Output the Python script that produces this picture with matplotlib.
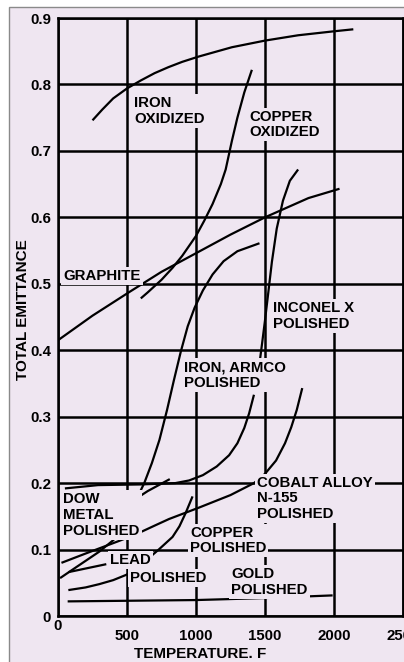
import matplotlib
matplotlib.use("Agg")
import matplotlib.pyplot as plt
from matplotlib.patches import Rectangle
from matplotlib.transforms import offset_copy

# curves (temperature F, total emittance)
iron_ox_t = [250, 320, 400, 500, 600, 700, 800, 900, 1020, 1260, 1500, 1740, 2000, 2140]
iron_ox_e = [0.746, 0.762, 0.779, 0.794, 0.806, 0.817, 0.826, 0.834, 0.842, 0.856, 0.866, 0.874, 0.880, 0.883]

copper_ox_t = [600, 650, 750, 830, 900, 1000, 1060, 1120, 1180, 1215, 1260, 1300, 1350, 1405]
copper_ox_e = [0.478, 0.487, 0.506, 0.524, 0.542, 0.572, 0.595, 0.620, 0.650, 0.672, 0.715, 0.750, 0.788, 0.822]

graphite_t = [0, 250, 520, 750, 1000, 1250, 1500, 1815, 2040]
graphite_e = [0.415, 0.452, 0.488, 0.518, 0.546, 0.574, 0.600, 0.629, 0.643]

inconel_t = [1465, 1480, 1500, 1520, 1550, 1585, 1630, 1680, 1740]
inconel_e = [0.388, 0.412, 0.445, 0.480, 0.533, 0.583, 0.625, 0.655, 0.672]

s_curve_t = [15, 100, 200, 300, 400, 460, 505, 560, 625, 680, 735, 790, 840, 890,
             940, 990, 1050, 1120, 1200, 1300, 1460]
s_curve_e = [0.057, 0.069, 0.083, 0.097, 0.114, 0.129, 0.147, 0.172, 0.200, 0.230, 0.265, 0.310,
             0.355, 0.398, 0.436, 0.464, 0.490, 0.514, 0.534, 0.549, 0.561]

armco_t = [50, 290, 600, 850, 950, 1050, 1150, 1240, 1300, 1350, 1385, 1420]
armco_e = [0.192, 0.197, 0.198, 0.200, 0.204, 0.212, 0.225, 0.242, 0.260, 0.283, 0.305, 0.333]

cobalt_t = [25, 200, 430, 555, 700, 805, 1020, 1250, 1420, 1500, 1580, 1645, 1690, 1730, 1770]
cobalt_e = [0.080, 0.094, 0.112, 0.122, 0.136, 0.146, 0.163, 0.182, 0.200, 0.214, 0.234, 0.260,
            0.284, 0.310, 0.343]

copper_pol_t = [75, 200, 300, 400, 495, 570, 640, 730, 830, 880, 925, 975]
copper_pol_e = [0.039, 0.043, 0.048, 0.054, 0.062, 0.072, 0.084, 0.100, 0.119, 0.135, 0.155, 0.180]

dow_t = [350, 495, 650, 810]
dow_e = [0.145, 0.167, 0.188, 0.206]

lead_t = [75, 350]
lead_e = [0.066, 0.078]

gold_t = [70, 1000, 1500, 1990]
gold_e = [0.022, 0.024, 0.027, 0.031]

x_ticks = [0, 500, 1000, 1500, 2000, 2500]
y_ticks = [0, 0.1, 0.2, 0.3, 0.4, 0.5, 0.6, 0.7, 0.8, 0.9]
y_labels = ["0", "0.1", "0.2", "0.3", "0.4", "0.5", "0.6", "0.7", "0.8", "0.9"]

# (text, x, y top) for the curve labels
labels = [
    ("IRON\nOXIDIZED", 550, 0.782),
    ("COPPER\nOXIDIZED", 1385, 0.762),
    ("GRAPHITE", 38, 0.522),
    ("INCONEL X\nPOLISHED", 1556, 0.474),
    ("IRON, ARMCO\nPOLISHED", 915, 0.385),
    ("COBALT ALLOY\nN-155\nPOLISHED", 1443, 0.211),
    ("DOW\nMETAL\nPOLISHED", 38, 0.186),
    ("COPPER\nPOLISHED", 956, 0.136),
    ("LEAD", 375, 0.095),
    ("POLISHED", 519, 0.068),
    ("GOLD\nPOLISHED", 1256, 0.073),
]

bg = "#efe6f1"
font = "Liberation Sans"

fig = plt.figure(figsize=(4.04, 6.62), dpi=100)
fig.patch.set_facecolor("white")
fig.patches.append(Rectangle((9 / 404, -0.01), 1.0, 1 - 7 / 662 + 0.01, transform=fig.transFigure,
                             facecolor=bg, edgecolor="#8a8a8a", lw=1.0, zorder=-5))

ax = fig.add_axes([58 / 404, 46 / 662, 345 / 404, 598 / 662])
ax.set_zorder(2)
ax.set_facecolor(bg)
ax.set_xlim(0, 2500)
ax.set_ylim(0, 0.9)

ax.set_xticks(x_ticks)
# the "0" of the temperature axis sits higher than the others in the original
ax.set_xticklabels([""] + [str(t) for t in x_ticks[1:]])
ax.set_yticks(y_ticks)
ax.set_yticklabels(y_labels)
ax.tick_params(length=0, labelsize=10.8)
ax.tick_params(axis="x", pad=9)
ax.tick_params(axis="y", pad=5)
for lab in ax.get_xticklabels() + ax.get_yticklabels():
    lab.set_fontweight("bold")
    lab.set_family(font)
zero_tr = offset_copy(ax.get_xaxis_transform(), fig=fig, x=0, y=-7, units="points")
ax.text(x_ticks[0], 0, str(x_ticks[0]), transform=zero_tr, ha="center", va="center",
        fontsize=10.8, fontweight="bold", family=font)

ax.grid(True, color="black", lw=1.8)
ax.set_axisbelow(True)
for sp in ax.spines.values():
    sp.set_linewidth(1.8)

curves = [(iron_ox_t, iron_ox_e), (copper_ox_t, copper_ox_e), (graphite_t, graphite_e),
          (inconel_t, inconel_e), (s_curve_t, s_curve_e), (armco_t, armco_e),
          (cobalt_t, cobalt_e), (copper_pol_t, copper_pol_e), (dow_t, dow_e),
          (lead_t, lead_e), (gold_t, gold_e)]
for t, e in curves:
    ax.plot(t, e, color="black", lw=1.6, zorder=3, solid_capstyle="butt", solid_joinstyle="round")

for txt, x, y in labels:
    ax.text(x, y, txt, ha="left", va="top", fontsize=10.8, fontweight="bold", family=font,
            linespacing=1.15, zorder=5,
            bbox=dict(facecolor=bg, edgecolor="none", pad=1.5))

fig.text(23 / 404, 1 - 310 / 662, "TOTAL EMITTANCE", rotation=90, ha="center", va="center",
         fontsize=11, fontweight="bold", family=font)
fig.text(200 / 404, 1 - 654 / 662, "TEMPERATURE. F", ha="center", va="center",
         fontsize=11, fontweight="bold", family=font)

fig.savefig("out.png", dpi=100, facecolor=fig.get_facecolor())
